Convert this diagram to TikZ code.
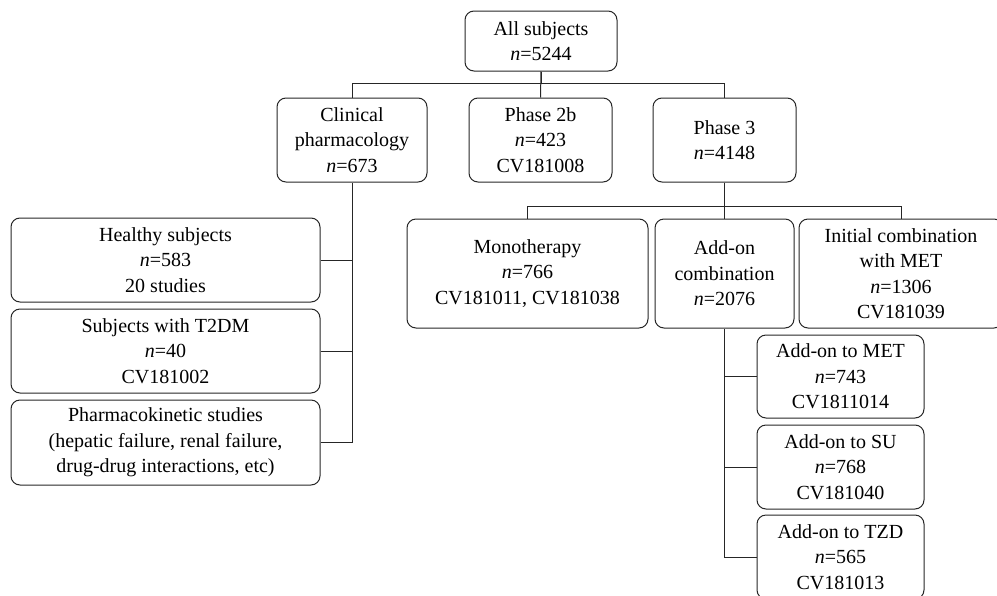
\documentclass[tikz,border=0pt]{standalone}
\usepackage{fontspec}
\setmainfont{Liberation Serif}

\begin{document}
\begin{tikzpicture}[x=1pt,y=-1pt,
                box/.style={draw=black!85,line width=1pt,rounded corners=9pt,align=center,
                    inner sep=0pt,font=\fontsize{20}{25.5}\selectfont},
                link/.style={draw=black!85,line width=1pt}]
                \useasboundingbox (0,0) rectangle (997,595);
                \clip (0,0) rectangle (997,595);
                \node[box,minimum width=152,minimum height=60] (All) at (541,41) {All subjects\\\textit{n}=5244};
                \node[box,minimum width=150,minimum height=84] (Clin) at (352,140) {Clinical\\pharmacology\\\textit{n}=673};
                \node[box,minimum width=143,minimum height=84] (PhB) at (540.5,140) {Phase 2b\\\textit{n}=423\\CV181008};
                \node[box,minimum width=143,minimum height=84] (PhC) at (724.5,140) {Phase 3\\\textit{n}=4148};
                \node[box,minimum width=309,minimum height=84] (Healthy) at (165.5,260) {Healthy subjects\\\textit{n}=583\\20 studies};
                \node[box,minimum width=309,minimum height=84] (Diab) at (165.5,351) {Subjects with T2DM\\\textit{n}=40\\CV181002};
                \node[box,minimum width=309,minimum height=85] (Kin) at (165.5,442.5) {Pharmacokinetic studies\\(hepatic failure, renal failure,\\drug-drug interactions, etc)};
                \node[box,minimum width=241,minimum height=109] (Mono) at (527.5,273.5) {Monotherapy\\\textit{n}=766\\CV181011, CV181038};
                \node[box,minimum width=139,minimum height=109] (AddC) at (724.5,273.5) {Add-on\\combination\\\textit{n}=2076};
                \node[box,minimum width=204,minimum height=109] (Init) at (901,273.5) {Initial combination\\with MET\\\textit{n}=1306\\CV181039};
                \node[box,minimum width=167,minimum height=83] (Met) at (840.5,376.5) {Add-on to MET\\\textit{n}=743\\CV1811014};
                \node[box,minimum width=167,minimum height=84] (Su) at (840.5,467) {Add-on to SU\\\textit{n}=768\\CV181040};
                \node[box,minimum width=167,minimum height=84] (Tzd) at (840.5,557) {Add-on to TZD\\\textit{n}=565\\CV181013};
                \draw[link] (All.south) -- ++(0,12) -| (Clin.north);
                \draw[link] (All.south) -- (PhB.north);
                \draw[link] (All.south) -- ++(0,12) -| (PhC.north);
                \draw[link] (Healthy.east) -| (Clin.south);
                \draw[link] (Diab.east) -- (Diab.east -| Clin.south);
                \draw[link] (Kin.east) -| (Clin.south);
                \draw[link] (PhC.south) -- ++(0,24) -| (Mono.north);
                \draw[link] (PhC.south) -- ++(0,24) -| (Init.north);
                \draw[link] (PhC.south) -- (AddC.north);
                \draw[link] (Met.west) -| (AddC.south);
                \draw[link] (Su.west) -- (Su.west -| AddC.south);
                \draw[link] (Tzd.west) -| (AddC.south);
            \end{tikzpicture}
\end{document}
